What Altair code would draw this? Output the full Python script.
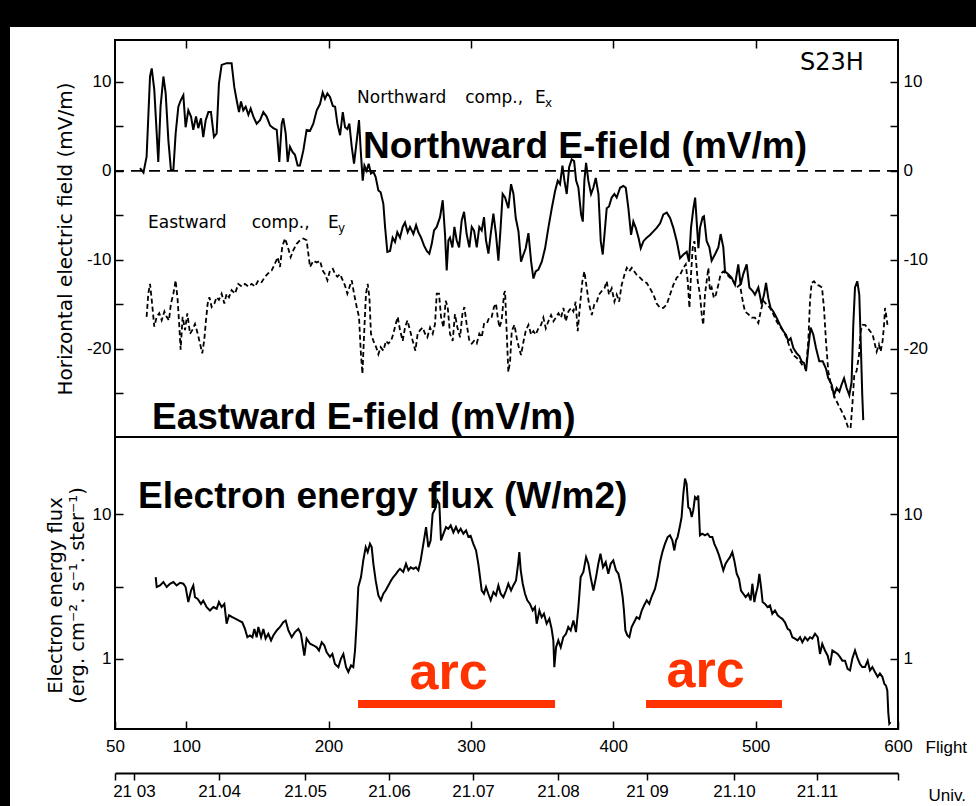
import altair as alt
import pandas as pd

# Northward field component Ex: (flight time s, mV/m)
ex_samples = [
    (67.6, 0.3), (70.0, -0.2), (72.2, 1.6), (74.6, 10.6), (75.8, 11.5), (77.6, 9.1), (79.3, 4.2),
    (80.4, 1.0), (82.0, 7.2), (84.0, 10.6), (85.6, 8.7), (87.5, 3.4), (89.3, 0.1), (91.0, 0.1),
    (92.6, 4.2), (94.5, 7.2), (96.1, 7.9), (98.0, 8.5), (99.6, 4.9), (101.5, 6.8), (103.4, 6.1),
    (105.0, 4.6), (106.9, 6.1), (108.5, 4.8), (110.4, 5.9), (112.0, 3.8), (113.7, 5.7), (115.6, 6.6),
    (117.4, 6.6), (119.5, 3.8), (121.4, 4.2), (123.0, 9.8), (124.9, 11.9), (128.4, 12.1), (131.9, 12.1),
    (133.8, 9.4), (135.5, 7.9), (137.1, 6.6), (138.5, 7.8), (140.1, 6.8), (141.8, 7.2), (143.7, 6.3),
    (145.3, 7.0), (147.2, 6.1), (149.5, 5.3), (151.9, 5.7), (154.2, 6.6), (156.5, 6.1), (158.9, 5.1),
    (161.2, 4.8), (163.6, 4.6), (165.4, 1.0), (167.1, 5.3), (168.2, 5.9), (169.9, 4.2), (171.3, 1.0),
    (172.9, 2.7), (174.8, 2.1), (176.4, 1.8), (178.3, 0.6), (179.9, 0.6), (182.3, 2.3), (184.6, 4.6),
    (187.0, 4.5), (189.3, 5.3), (191.7, 6.8), (194.0, 7.5), (195.9, 8.8), (197.5, 8.1), (199.2, 8.7),
    (201.0, 8.3), (203.0, 7.3), (204.6, 7.2), (206.2, 5.3), (208.1, 4.0), (210.0, 6.6), (211.6, 4.9),
    (213.2, 4.7), (214.6, 5.3), (216.3, 2.7), (217.9, 0.8), (219.8, 3.4), (221.4, 5.7), (222.6, 2.3),
    (224.0, -1.1), (225.2, 0.6), (226.8, 0.0), (228.2, 0.8), (229.8, -0.3), (231.5, -0.1), (233.1, -0.7),
    (235.0, -2.2), (236.6, -2.4), (238.5, -3.7), (239.7, -6.3), (241.3, -9.1), (243.2, -9.0), (245.0, -7.5),
    (246.7, -8.0), (248.3, -6.9), (250.2, -7.5), (252.1, -6.3), (253.7, -5.8), (255.6, -6.9), (257.2, -6.3),
    (259.6, -7.1), (261.5, -6.1), (263.1, -6.9), (265.0, -7.5), (267.1, -8.4), (269.0, -9.0), (270.8, -9.3),
    (272.5, -8.2), (274.1, -6.7), (276.0, -6.3), (278.3, -5.2), (280.2, -3.3), (281.8, -7.1), (283.0, -11.2),
    (284.2, -7.8), (285.3, -7.5), (287.0, -8.6), (288.4, -6.3), (290.0, -7.8), (291.7, -8.6), (293.5, -5.6),
    (295.2, -4.6), (297.0, -7.1), (298.9, -8.6), (300.6, -6.3), (302.2, -6.7), (304.1, -8.6), (305.9, -6.3),
    (307.6, -6.7), (309.2, -5.2), (310.6, -7.8), (312.3, -9.3), (313.9, -7.1), (315.8, -4.8), (317.6, -7.1),
    (319.3, -10.1), (320.9, -6.3), (322.3, -2.6), (324.0, -3.0), (326.3, -4.2), (328.2, -1.5), (329.9, -2.6),
    (331.5, -5.3), (333.4, -6.8), (335.2, -10.2), (336.9, -9.4), (338.5, -8.7), (340.4, -7.0), (342.3, -10.2),
    (343.9, -12.1), (345.5, -11.3), (347.4, -11.1), (349.8, -10.2), (352.1, -8.7), (354.4, -6.4), (356.8, -4.2),
    (359.1, -2.3), (361.0, -1.1), (362.6, -1.5), (364.3, 0.6), (365.7, -1.1), (367.3, -2.6), (369.0, 0.4),
    (370.8, 1.3), (372.5, 1.1), (373.9, -1.1), (375.5, -1.9), (377.4, -4.9), (378.6, -5.7), (379.7, -1.1),
    (380.9, 0.9), (382.5, -1.1), (384.4, -2.6), (386.0, -1.9), (387.7, -0.8), (389.6, -2.6), (391.2, -7.9),
    (392.6, -9.4), (393.8, -7.2), (395.4, -4.2), (397.0, -4.0), (398.9, -3.0), (400.8, -2.6), (402.4, -3.0),
    (404.8, -1.9), (407.1, -1.7), (408.8, -1.9), (410.6, -4.2), (412.5, -7.2), (414.1, -5.7), (415.8, -6.4),
    (417.7, -7.5), (419.3, -8.7), (421.2, -7.9), (423.5, -7.5), (425.8, -7.2), (428.2, -6.8), (430.5, -6.4),
    (432.9, -5.9), (435.2, -4.9), (437.6, -4.7), (439.9, -5.3), (442.2, -6.4), (444.6, -7.9), (446.9, -9.8),
    (449.3, -9.4), (451.6, -9.1), (453.2, -10.2), (454.6, -6.4), (456.3, -4.2), (457.5, -3.0), (458.6, -5.7),
    (459.8, -8.7), (460.9, -6.4), (462.8, -5.2), (463.7, -5.1), (465.6, -7.9), (467.5, -8.6), (469.1, -10.1),
    (471.4, -9.4), (473.8, -8.6), (475.4, -7.1), (477.3, -8.6), (478.5, -11.3), (480.8, -11.6), (483.1, -12.0),
    (485.5, -12.8), (487.8, -10.5), (489.5, -12.8), (491.3, -11.6), (493.7, -10.5), (495.6, -13.1), (497.9, -13.5),
    (499.5, -13.9), (501.9, -13.1), (504.2, -15.0), (505.9, -13.9), (507.3, -12.6), (508.9, -14.3), (510.5, -15.4),
    (512.4, -15.8), (514.7, -16.5), (517.1, -17.3), (519.4, -18.0), (521.3, -18.4), (522.9, -19.1), (524.6, -18.8),
    (526.5, -19.9), (528.8, -20.5), (530.7, -20.8), (532.3, -21.4), (534.0, -21.6), (535.4, -22.5), (537.0, -19.9),
    (538.6, -17.6), (540.5, -18.4), (542.4, -19.9), (544.7, -21.4), (547.1, -21.4), (549.4, -22.2), (551.0, -23.3),
    (553.4, -24.0), (555.0, -25.2), (556.9, -24.4), (558.8, -24.8), (560.4, -24.0), (562.1, -23.3), (563.9, -24.4),
    (565.8, -25.2), (567.4, -23.7), (568.6, -17.3), (569.8, -13.1), (571.4, -12.4), (572.8, -13.9), (573.8, -19.1),
    (574.9, -25.2), (575.6, -28.0),
]

# Eastward field component Ey: (flight time s, mV/m)
ey_samples = [
    (72.2, -16.4), (73.4, -13.8), (74.6, -12.7), (75.8, -14.5), (77.6, -17.5), (79.3, -16.4), (81.1, -16.0),
    (82.8, -16.8), (84.7, -15.8), (86.3, -16.4), (87.9, -16.8), (89.3, -14.9), (91.0, -13.8), (92.6, -12.3),
    (94.0, -14.5), (95.2, -17.5), (96.1, -20.1), (97.5, -16.4), (99.2, -17.9), (100.8, -16.0), (102.7, -18.3),
    (104.3, -17.9), (106.2, -17.2), (108.1, -18.3), (109.7, -19.4), (111.3, -20.5), (112.7, -19.0), (113.9, -16.8),
    (115.1, -14.9), (116.3, -14.2), (117.9, -15.3), (119.8, -14.9), (121.4, -14.2), (123.0, -14.5), (124.9, -13.8),
    (126.8, -14.9), (128.4, -13.8), (130.1, -14.2), (131.9, -13.4), (134.3, -13.8), (136.6, -12.7), (139.0, -13.0),
    (141.3, -12.7), (143.7, -13.0), (146.0, -12.7), (148.3, -13.0), (150.7, -12.3), (153.0, -12.5), (155.4, -11.9),
    (157.7, -11.5), (160.0, -11.2), (162.4, -10.4), (164.3, -9.7), (165.9, -10.8), (167.5, -8.5), (169.4, -7.6),
    (171.3, -8.5), (173.4, -9.7), (175.3, -8.9), (177.6, -8.2), (179.9, -7.8), (182.3, -7.6), (184.6, -7.8),
    (185.8, -9.3), (187.0, -10.8), (189.3, -10.1), (191.7, -10.3), (194.0, -10.1), (195.9, -11.2), (197.5, -11.6),
    (199.2, -12.3), (201.0, -11.2), (203.0, -11.0), (204.6, -11.6), (206.2, -11.9), (208.1, -11.6), (210.0, -12.3),
    (211.6, -12.9), (213.2, -13.8), (214.6, -13.1), (216.3, -12.3), (217.9, -13.8), (219.8, -15.3), (221.4, -16.4),
    (222.6, -20.2), (223.8, -22.8), (225.0, -18.3), (226.3, -13.8), (227.5, -12.7), (228.7, -14.2), (229.8, -18.3),
    (231.5, -19.1), (233.4, -19.8), (235.0, -20.6), (236.6, -19.8), (238.5, -20.2), (240.4, -19.1), (242.0, -19.4),
    (243.9, -19.1), (245.5, -18.3), (247.2, -17.2), (248.6, -16.4), (250.2, -17.9), (252.1, -19.1), (253.7, -17.6),
    (255.4, -16.8), (257.2, -17.9), (259.1, -19.1), (261.0, -20.2), (262.6, -18.3), (264.3, -17.9), (266.1, -17.6),
    (267.8, -18.3), (269.4, -18.7), (271.3, -17.6), (273.2, -18.3), (274.8, -17.2), (276.0, -13.8), (277.6, -13.8),
    (279.0, -16.4), (280.7, -17.6), (282.3, -14.6), (283.7, -15.3), (285.3, -18.3), (287.2, -19.1), (288.8, -16.1),
    (290.5, -17.6), (292.4, -18.7), (294.0, -16.1), (295.4, -15.3), (297.0, -17.2), (298.9, -19.1), (300.6, -19.4),
    (302.2, -19.1), (304.1, -19.4), (305.9, -18.3), (307.6, -18.7), (309.2, -17.2), (311.1, -17.2), (313.0, -16.4),
    (314.6, -16.4), (316.2, -15.3), (317.6, -14.9), (318.8, -16.4), (320.0, -17.6), (321.6, -16.8), (323.3, -13.8),
    (324.0, -13.5), (325.2, -18.4), (326.3, -22.6), (327.5, -21.4), (328.7, -18.0), (330.6, -17.3), (332.2, -18.8),
    (333.8, -19.9), (335.2, -20.7), (336.9, -19.2), (338.5, -18.0), (340.4, -17.3), (342.3, -18.4), (343.9, -18.0),
    (345.5, -18.4), (347.4, -17.7), (349.3, -17.3), (350.9, -16.5), (352.6, -17.7), (354.4, -16.9), (356.3, -16.2),
    (358.0, -16.9), (359.6, -16.5), (361.5, -16.0), (363.3, -16.5), (365.0, -15.4), (366.6, -16.9), (368.5, -15.8),
    (370.4, -15.4), (372.0, -15.8), (373.6, -14.7), (375.0, -18.0), (376.7, -15.0), (378.3, -12.4), (379.7, -11.3),
    (381.4, -13.2), (383.0, -15.0), (384.9, -16.2), (386.7, -15.0), (388.4, -14.7), (390.0, -13.9), (391.9, -13.5),
    (393.8, -13.2), (395.4, -12.4), (397.0, -13.9), (398.9, -13.2), (400.8, -14.7), (402.4, -13.9), (404.1, -14.7),
    (405.9, -12.8), (407.8, -11.7), (409.5, -10.9), (411.1, -11.3), (413.0, -10.9), (414.8, -11.3), (416.5, -11.7),
    (418.8, -12.0), (421.2, -12.4), (423.5, -12.6), (425.8, -13.2), (428.2, -13.9), (430.5, -14.9), (432.9, -15.4),
    (435.2, -15.4), (437.6, -15.0), (439.9, -13.9), (442.2, -12.8), (444.6, -12.0), (446.9, -11.7), (449.3, -10.9),
    (450.9, -10.5), (452.3, -12.4), (453.5, -15.4), (454.6, -11.7), (455.8, -8.6), (457.0, -7.9), (458.2, -10.2),
    (459.3, -12.4), (460.9, -13.9), (462.1, -16.1), (463.2, -17.3), (464.4, -13.9), (465.6, -12.4), (466.8, -10.9),
    (467.9, -13.5), (469.1, -13.1), (470.7, -14.3), (472.1, -13.9), (473.8, -12.8), (475.4, -11.6), (477.3, -11.3),
    (479.6, -11.6), (482.0, -12.0), (484.3, -12.4), (486.7, -13.1), (489.0, -12.8), (490.9, -14.6), (492.5, -15.8),
    (494.8, -16.1), (497.2, -16.5), (499.5, -16.5), (501.9, -17.1), (503.5, -15.8), (505.4, -14.6), (507.7, -15.0),
    (510.1, -15.4), (512.4, -16.1), (514.7, -16.9), (517.1, -17.5), (519.4, -18.0), (521.8, -18.8), (524.1, -19.9),
    (526.5, -20.7), (528.8, -21.0), (531.1, -21.4), (533.5, -22.0), (535.4, -22.2), (537.0, -19.1), (538.2, -14.6),
    (539.3, -12.6), (541.0, -12.4), (542.8, -12.8), (544.7, -12.9), (546.6, -13.1), (548.0, -15.4), (549.4, -19.1),
    (551.0, -22.5), (553.4, -24.4), (555.7, -25.5), (558.1, -26.3), (560.4, -27.0), (562.8, -27.8), (565.1, -28.9),
    (566.7, -28.9), (568.1, -25.9), (569.3, -22.9), (570.9, -22.5), (572.6, -20.7), (573.8, -18.0), (575.2, -17.3),
    (576.8, -17.3), (578.4, -17.6), (580.3, -18.0), (582.2, -18.4), (583.8, -19.5), (585.0, -20.3), (586.6, -19.5),
    (587.8, -20.3), (589.2, -19.1), (590.2, -17.3), (590.9, -15.4), (591.6, -16.1), (592.6, -17.3),
]

# Electron energy flux (erg cm^-2 s^-1 ster^-1) against flight time
flux_samples = [
    (78.6, 3.68), (79.3, 3.14), (81.6, 3.22), (84.0, 3.40), (86.3, 3.14), (88.6, 3.31), (91.0, 3.40),
    (93.3, 3.22), (95.7, 3.36), (98.0, 3.31), (99.6, 3.14), (101.5, 2.47), (103.4, 2.97), (105.0, 3.22),
    (106.2, 2.67), (108.1, 2.60), (110.4, 2.40), (112.0, 2.53), (114.4, 2.28), (116.7, 2.16), (119.1, 2.28),
    (121.4, 2.22), (123.0, 2.47), (124.9, 2.28), (126.8, 2.40), (128.4, 1.75), (130.1, 2.00), (132.4, 1.94),
    (134.8, 1.89), (137.1, 1.84), (139.4, 1.79), (141.3, 1.61), (143.0, 1.41), (144.8, 1.45), (146.5, 1.41),
    (147.9, 1.61), (149.5, 1.41), (150.7, 1.66), (152.6, 1.41), (154.2, 1.61), (155.8, 1.38), (157.7, 1.49),
    (159.6, 1.34), (161.2, 1.45), (163.6, 1.57), (165.9, 1.66), (168.2, 1.79), (169.9, 1.84), (171.8, 1.57),
    (174.1, 1.41), (176.4, 1.53), (178.8, 1.61), (180.6, 1.49), (183.0, 1.05), (184.6, 1.38), (187.0, 1.27),
    (189.3, 1.24), (191.7, 1.20), (193.3, 1.14), (195.2, 1.30), (197.0, 1.24), (198.7, 1.11), (201.0, 1.03),
    (202.7, 1.08), (204.5, 0.92), (206.9, 0.875), (208.7, 1.00), (210.4, 1.08), (212.3, 0.875), (213.9, 0.81),
    (215.8, 0.90), (217.4, 0.875), (218.6, 1.14), (219.7, 1.75), (220.9, 3.14), (222.8, 3.68), (224.4, 4.80),
    (226.1, 5.94), (227.5, 5.48), (229.1, 6.26), (230.3, 5.94), (231.5, 4.55), (233.1, 3.49), (235.0, 2.75),
    (236.8, 2.54), (238.5, 2.82), (240.1, 2.97), (242.0, 3.22), (243.9, 3.49), (245.5, 3.68), (247.4, 3.88),
    (249.0, 4.08), (250.2, 4.20), (252.5, 4.00), (254.4, 4.55), (256.1, 4.10), (257.7, 4.30), (259.6, 4.20),
    (261.4, 4.30), (263.1, 4.10), (264.7, 4.80), (266.6, 6.26), (268.5, 8.17), (270.1, 5.94), (271.7, 6.60),
    (273.1, 10.1), (274.8, 10.9), (276.4, 12.5), (277.8, 11.9), (279.0, 6.60), (280.6, 7.30), (282.5, 8.17),
    (284.1, 7.95), (285.8, 8.40), (287.7, 7.50), (289.5, 8.20), (291.2, 7.50), (292.8, 7.95), (294.7, 7.35),
    (296.6, 7.75), (298.2, 7.00), (299.8, 7.10), (301.7, 6.26), (303.6, 5.63), (305.2, 4.55), (306.4, 3.68),
    (307.6, 2.97), (309.2, 2.82), (310.6, 3.14), (312.2, 2.82), (313.9, 2.54), (315.8, 2.90), (317.6, 2.75),
    (319.3, 3.22), (320.9, 2.82), (322.8, 2.67), (324.7, 2.97), (326.3, 3.31), (328.2, 2.97), (329.8, 3.22),
    (331.7, 3.49), (333.3, 4.67), (334.0, 5.48), (335.0, 4.10), (336.4, 3.31), (338.0, 2.82), (339.6, 2.54),
    (341.5, 2.40), (343.4, 2.16), (345.0, 2.28), (346.2, 1.75), (348.1, 2.16), (349.7, 1.94), (351.3, 2.05),
    (353.2, 1.75), (355.1, 1.89), (356.7, 1.61), (357.9, 1.34), (358.6, 0.875), (359.8, 1.20), (361.4, 1.34),
    (363.1, 1.20), (364.9, 1.41), (366.8, 1.49), (368.4, 1.66), (370.1, 1.57), (372.0, 1.84), (373.8, 1.53),
    (375.5, 2.28), (377.1, 3.68), (379.0, 4.00), (380.9, 5.06), (382.5, 4.55), (384.1, 3.68), (386.0, 2.97),
    (387.9, 3.68), (389.5, 4.55), (391.0, 5.34), (392.8, 4.31), (394.7, 4.67), (396.5, 3.88), (398.2, 4.55),
    (400.0, 4.80), (401.9, 4.10), (403.6, 3.88), (405.2, 3.31), (406.6, 2.67), (407.5, 2.16), (408.5, 1.57),
    (409.9, 1.45), (411.3, 1.41), (412.9, 1.66), (414.6, 1.79), (416.4, 1.94), (418.3, 1.89), (420.0, 2.16),
    (421.6, 2.34), (423.5, 2.54), (425.3, 2.40), (427.0, 2.70), (429.3, 3.05), (431.2, 3.68), (432.8, 4.67),
    (434.5, 5.48), (436.3, 6.26), (438.2, 6.97), (439.8, 7.16), (441.5, 6.61), (442.9, 5.63), (444.1, 6.61),
    (445.2, 6.97), (446.9, 8.39), (448.0, 9.59), (449.2, 13.9), (450.4, 17.7), (451.5, 16.3), (452.7, 11.2),
    (453.9, 10.9), (455.1, 9.59), (456.2, 10.7), (457.4, 13.2), (458.6, 12.8), (459.7, 13.5), (460.9, 7.16),
    (462.5, 7.35), (464.4, 7.16), (466.3, 7.35), (467.9, 6.97), (469.6, 6.97), (471.0, 6.26), (472.6, 5.78),
    (474.3, 5.20), (475.7, 4.67), (477.3, 4.09), (478.9, 4.55), (480.3, 4.80), (482.0, 5.06), (483.6, 5.48),
    (485.0, 4.80), (486.7, 3.88), (488.3, 3.58), (489.7, 2.97), (491.3, 2.82), (493.0, 2.67), (494.9, 2.82),
    (496.5, 2.54), (497.7, 3.31), (499.1, 2.47), (500.2, 2.82), (501.4, 3.14), (502.6, 3.88), (503.8, 3.14),
    (504.9, 2.47), (506.6, 2.40), (508.4, 2.28), (510.1, 2.34), (511.7, 2.05), (513.6, 2.16), (515.5, 2.00),
    (517.1, 1.94), (518.7, 1.89), (520.6, 1.79), (522.5, 1.61), (524.1, 1.57), (525.8, 1.41), (527.6, 1.38),
    (529.5, 1.34), (531.2, 1.41), (532.8, 1.30), (534.7, 1.41), (536.5, 1.34), (538.2, 1.41), (539.8, 1.38),
    (541.7, 1.49), (543.6, 1.41), (545.2, 1.08), (546.8, 1.27), (548.7, 1.14), (550.6, 1.05), (552.2, 0.90),
    (553.9, 1.14), (555.7, 1.11), (557.6, 1.08), (559.2, 1.03), (560.9, 0.97), (562.8, 0.97), (564.6, 0.85),
    (566.3, 0.83), (567.9, 1.00), (569.8, 1.14), (571.7, 1.00), (573.3, 0.92), (574.9, 0.875), (576.8, 0.875),
    (578.7, 0.97), (580.3, 0.83), (582.0, 0.875), (583.8, 0.81), (585.7, 0.75), (587.3, 0.79), (589.0, 0.75),
    (590.4, 0.67), (591.6, 0.65), (592.5, 0.60), (593.2, 0.42), (593.9, 0.355), (594.8, 0.364),
]

# Flight-time axis ticks (s)
flight_ticks = [50, 100, 200, 300, 400, 500, 600]
frame_ticks = [100, 200, 300, 400, 500]

# Universal Time minute marks and the flight time at which each falls
ut_labels = ["21 03", "21.04", "21.05", "21.06", "21.07", "21.08", "21 09", "21.10", "21.11"]
ut_flight = [63.3, 123.1, 183.5, 242.5, 301.5, 361.2, 423.7, 484.8, 543.1]

# Auroral arc crossings (flight time s)
arc_start = [220.7, 423.0]
arc_end = [359.1, 518.5]
arc_level = 0.486

ex_df = pd.DataFrame(ex_samples, columns=["t", "v"])
ey_df = pd.DataFrame(ey_samples, columns=["t", "v"])
flux_df = pd.DataFrame(flux_samples, columns=["t", "v"])
arc_df = pd.DataFrame({"start": arc_start, "end": arc_end, "level": [arc_level] * 2,
                       "mid": [284.3, 464.8], "text_v": [0.616, 0.637], "label": ["arc", "arc"]})

# ---- layout -------------------------------------------------------------
W, H, H_TOP = 783, 689, 397
TICK = 8
X_DOMAIN = [50, 600]
E_DOMAIN = [-29.9, 14.7]
F_DOMAIN = [0.326, 34.4]
LABEL_FONT = "Liberation Sans"
TITLE_FONT = "DejaVu Sans"
RED = "#ff3300"


def x_enc(field, axis=None):
    return alt.X(f"{field}:Q", scale=alt.Scale(domain=X_DOMAIN, nice=False, zero=False), axis=axis)


def e_enc(field, axis=None):
    return alt.Y(f"{field}:Q", scale=alt.Scale(domain=E_DOMAIN, range=[H_TOP, 0], nice=False, zero=False),
                 axis=axis)


def f_enc(field, axis=None):
    return alt.Y(f"{field}:Q", scale=alt.Scale(type="log", domain=F_DOMAIN, range=[H, H_TOP], nice=False),
                 axis=axis)


inward = dict(offset=-TICK, tickSize=TICK, domain=False, grid=False, labelFlush=False)
e_values = [-25, -20, -15, -10, -5, 0, 5, 10]
e_labels = "datum.value % 10 === 0 ? '' + datum.value : ''"
f_values = [1, 3.1623, 10]
f_labels = "datum.value === 1 || datum.value === 10 ? '' + datum.value : ''"

ax_e_left = alt.Axis(orient="left", values=e_values, labelExpr=e_labels, labelPadding=4,
                     title="Horizontal electric field (mV/m)", titlePadding=11, titleFontSize=20, **inward)
ax_e_right = alt.Axis(orient="right", values=e_values, labelExpr=e_labels, labelPadding=5, title=None, **inward)
ax_f_left = alt.Axis(orient="left", values=f_values, labelExpr=f_labels, labelPadding=4,
                     title=["Electron energy flux", "(erg. cm\u207b\u00b2. s\u207b\u00b9. ster\u207b\u00b9)"],
                     titlePadding=5, titleLineHeight=22, titleFontSize=19.5, titleY=555, **inward)
ax_f_right = alt.Axis(orient="right", values=f_values, labelExpr=f_labels, labelPadding=5, title=None, **inward)

ax_flight = alt.Axis(orient="bottom", values=flight_ticks, format="d", labelPadding=9,
                     title="Flight", titleX=810, titleY=31, titleAlign="left", titleBaseline="alphabetic",
                     titleFont=LABEL_FONT, titleFontSize=17, **inward)
ax_frame_top = alt.Axis(orient="top", values=frame_ticks, labels=False, title=None, **inward)

ut_js_labels = "[" + ",".join(f"'{s}'" for s in ut_labels) + "]"
ut_js_pos = "[" + ",".join(str(p) for p in ut_flight) + "]"
ax_ut = alt.Axis(orient="bottom", values=[50] + ut_flight + [600], offset=44, tickSize=7, domain=True,
                 domainWidth=2, grid=False, labelFlush=False, labelPadding=3,
                 labelExpr=f"indexof({ut_js_pos}, datum.value) < 0 ? '' : "
                           f"{ut_js_labels}[indexof({ut_js_pos}, datum.value)]",
                 title="Univ.", titleX=813, titleY=27, titleAlign="left", titleBaseline="alphabetic",
                 titleFont=LABEL_FONT, titleFontSize=17)

# ---- layers -------------------------------------------------------------
dummy = pd.DataFrame({"k": [0]})

# dark page margin along the left and top edges
margin_left = alt.Chart(dummy).mark_rect(color="black").encode(
    x=alt.value(-115), x2=alt.value(-105), y=alt.value(-40), y2=alt.value(H + 77))
margin_top = alt.Chart(dummy).mark_rect(color="black").encode(
    x=alt.value(-115), x2=alt.value(W + 78), y=alt.value(-40), y2=alt.value(-13))

ex_line = alt.Chart(ex_df).mark_line(color="black", strokeWidth=2).encode(
    x=x_enc("t", ax_flight), y=e_enc("v", ax_e_left))
ey_line = alt.Chart(ey_df).mark_line(color="black", strokeWidth=1.8, strokeDash=[5, 3]).encode(
    x=x_enc("t", ax_frame_top), y=e_enc("v", ax_e_right))

zero_line = alt.Chart(pd.DataFrame({"v": [0]})).mark_rule(
    color="black", strokeWidth=1.6, strokeDash=[11, 7]).encode(y=e_enc("v"))
divider = alt.Chart(pd.DataFrame({"v": [E_DOMAIN[0]]})).mark_rule(
    color="black", strokeWidth=2).encode(y=e_enc("v"))

flux_line = alt.Chart(flux_df).mark_line(color="black", strokeWidth=2).encode(
    x=x_enc("t", ax_ut), y=f_enc("v", ax_f_left))

arc_bars = alt.Chart(arc_df).mark_rule(color=RED, strokeWidth=8, strokeCap="butt").encode(
    x=x_enc("start"), x2="end", y=f_enc("level", ax_f_right))
arc_text = alt.Chart(arc_df).mark_text(
    color=RED, font="Liberation Sans", fontWeight="bold", fontSize=52, align="center",
    baseline="alphabetic").encode(x=x_enc("mid"), y=f_enc("text_v"), text="label")

bold_upper = alt.Chart(pd.DataFrame({
    "t": [224.2, 76.0], "v": [1.44, -29.0],
    "label": ["Northward E-field (mV/m)", "Eastward E-field (mV/m)"]})).mark_text(
    font="Liberation Sans", fontWeight="bold", fontSize=37, align="left", baseline="alphabetic",
    color="black").encode(x=x_enc("t"), y=e_enc("v"), text="label")
bold_lower = alt.Chart(pd.DataFrame({
    "t": [66.2], "v": [11.1], "label": ["Electron energy flux (W/m2)"]})).mark_text(
    font="Liberation Sans", fontWeight="bold", fontSize=37, align="left", baseline="alphabetic",
    color="black").encode(x=x_enc("t"), y=f_enc("v"), text="label")

# curve labels, word by word, plus the flight code
small_notes = alt.Chart(pd.DataFrame({
    "t": [220.0, 296.0, 345.0, 352.0, 73.2, 146.0, 199.6, 206.6, 531.2],
    "v": [7.62, 7.62, 7.62, 7.17, -6.42, -6.42, -6.42, -6.87, 11.33],
    "label": ["Northward", "comp.,", "E", "x", "Eastward", "comp.,", "E", "y", "S23H"],
    "size": [17, 17, 17, 12, 17, 17, 17, 12, 24],
})).mark_text(font=TITLE_FONT, align="left", baseline="alphabetic", color="black").encode(
    x=x_enc("t"), y=e_enc("v"), text="label", size=alt.Size("size:Q", scale=None, legend=None))

chart = alt.layer(
    margin_left, margin_top, zero_line, divider, ey_line, ex_line, flux_line,
    arc_bars, arc_text, bold_upper, bold_lower, small_notes,
).resolve_scale(y="independent").resolve_axis(x="independent", y="independent").properties(
    width=W, height=H,
    padding={"left": 115, "top": 40, "right": 78, "bottom": 77},
    autosize=alt.AutoSizeParams(type="none"),
    background="white",
).configure_view(stroke="black", strokeWidth=2).configure_axis(
    labelFont=LABEL_FONT, labelFontSize=17, labelColor="black",
    titleFont=TITLE_FONT, titleFontSize=18, titleFontWeight="normal", titleColor="black",
    tickColor="black", tickWidth=1.5, domainColor="black",
)

chart.save("out.html", embed_options={"renderer": "svg", "actions": False})
